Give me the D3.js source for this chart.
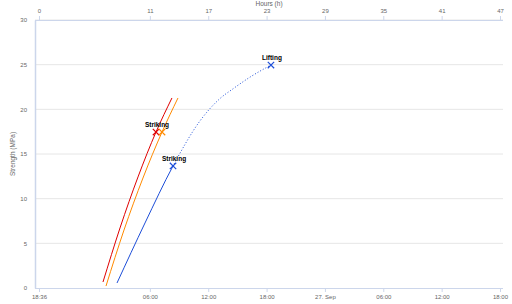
<!DOCTYPE html>
<html>
<head>
<meta charset="utf-8">
<script src="https://cdn.jsdelivr.net/npm/d3@7"></script>
<style>
  body { margin: 0; background: #fff; }
  text { font-family: "Liberation Sans", Arial, sans-serif; }
</style>
</head>
<body>
<script>
// hours after 26 Sep 18:36, strength in MPa
var redHours = [6.58, 8.33, 10.18, 12.03, 13.67]
var redValues = [0.67, 6.72, 12.43, 17.46, 21.27]
var orangeHours = [6.89, 8.74, 10.69, 12.65, 14.29]
var orangeValues = [0.22, 6.49, 12.31, 17.46, 21.27]
var blueHours = [8.02, 10.90, 13.78, 16.55, 18.60, 19.95, 21.69, 23.85]
var blueValues = [0.56, 7.28, 13.66, 18.70, 21.20, 22.30, 23.60, 24.96]
var blueStrikeHour = 13.78 // solid up to striking, dotted after

// milestones: [series, hour, value, label]
var milestones = [
  ["red", 12.03, 17.46, "Striking"],
  ["orange", 12.65, 17.46, ""],
  ["blue", 13.78, 13.66, "Striking"],
  ["blue", 23.85, 24.96, "Lifting"]
]

var yTicks = [0, 5, 10, 15, 20, 25, 30]
var topTickHours = [0, 11.4, 17.4, 23.4, 29.4, 35.4, 41.4, 47.4]
var topTickLabels = ["0", "11", "17", "23", "29", "35", "41", "47"]
var bottomTickLabels = ["18:36", "06:00", "12:00", "18:00", "27. Sep", "06:00", "12:00", "18:00"]

var colors = {red: "#e00000", orange: "#ff8a00", blue: "#1d4ed8"}

var width = 512, height = 304
var plot = {left: 35, right: 503, top: 20, bottom: 288}

var svg = d3.select("body").append("svg")
    .attr("width", width)
    .attr("height", height)

var x = d3.scaleLinear().domain([0, 47.4]).range([39, 500])
var y = d3.scaleLinear().domain([0, 30]).range([plot.bottom, plot.top])

// grid
svg.append("g").selectAll("line")
    .data(yTicks.filter(d => d > 0))
    .enter().append("line")
    .attr("x1", plot.left).attr("x2", plot.right)
    .attr("y1", d => y(d)).attr("y2", d => y(d))
    .attr("stroke", "#e6e6e6").attr("stroke-width", 1)

// y axis
var yAxis = d3.axisLeft(y).tickValues(yTicks).tickSize(0).tickPadding(8)
var yG = svg.append("g").attr("transform", "translate(" + plot.left + ",0)").call(yAxis)
yG.select(".domain").attr("stroke", "#ccd6eb").attr("stroke-width", 1.5)
yG.selectAll("text").attr("fill", "#666").style("font-size", "6px")

svg.append("text")
    .attr("transform", "translate(13," + ((plot.top + plot.bottom) / 2) + ") rotate(-90)")
    .attr("text-anchor", "middle")
    .attr("dominant-baseline", "middle")
    .attr("fill", "#666")
    .style("font-size", "6.5px")
    .text("Strength (MPa)")

// bottom axis
var xBottom = d3.axisBottom(x).tickValues(topTickHours).tickSize(4).tickPadding(3)
    .tickFormat((d, i) => bottomTickLabels[i])
var xbG = svg.append("g").attr("transform", "translate(0," + plot.bottom + ")").call(xBottom)
xbG.select(".domain").attr("d", "M" + plot.left + ",0.5H" + plot.right).attr("stroke", "#ccd6eb")
xbG.selectAll(".tick line").attr("stroke", "#ccd6eb")
xbG.selectAll("text").attr("fill", "#666").style("font-size", "6px")

// top axis
var xTop = d3.axisTop(x).tickValues(topTickHours).tickSize(4).tickPadding(3)
    .tickFormat((d, i) => topTickLabels[i])
var xtG = svg.append("g").attr("transform", "translate(0," + plot.top + ")").call(xTop)
xtG.select(".domain").attr("d", "M" + plot.left + ",0.5H" + plot.right).attr("stroke", "#ccd6eb")
xtG.selectAll(".tick line").attr("stroke", "#ccd6eb")
xtG.selectAll("text").attr("fill", "#666").style("font-size", "6px")

svg.append("text")
    .attr("x", (plot.left + plot.right) / 2)
    .attr("y", 6)
    .attr("text-anchor", "middle")
    .attr("fill", "#666")
    .style("font-size", "6.5px")
    .text("Hours (h)")

// lines
var line = d3.line()
    .x(d => x(d[0]))
    .y(d => y(d[1]))
    .curve(d3.curveMonotoneX)

function pts(hs, vs) { return hs.map((h, i) => [h, vs[i]]) }

svg.append("path").datum(pts(redHours, redValues))
    .attr("fill", "none").attr("stroke", colors.red).attr("stroke-width", 1).attr("d", line)
svg.append("path").datum(pts(orangeHours, orangeValues))
    .attr("fill", "none").attr("stroke", colors.orange).attr("stroke-width", 1).attr("d", line)

// blue: one curve, solid part clipped before striking, dotted part after
var defs = svg.append("defs")
defs.append("clipPath").attr("id", "solidClip").append("rect")
    .attr("x", 0).attr("y", 0).attr("width", x(blueStrikeHour)).attr("height", height)
defs.append("clipPath").attr("id", "dotClip").append("rect")
    .attr("x", x(blueStrikeHour)).attr("y", 0).attr("width", width).attr("height", height)

var bluePts = pts(blueHours, blueValues)
svg.append("path").datum(bluePts)
    .attr("clip-path", "url(#solidClip)")
    .attr("fill", "none").attr("stroke", colors.blue).attr("stroke-width", 1).attr("d", line)
svg.append("path").datum(bluePts)
    .attr("clip-path", "url(#dotClip)")
    .attr("fill", "none").attr("stroke", colors.blue).attr("stroke-width", 1)
    .attr("stroke-dasharray", "1,2").attr("d", line)

// markers
var mk = svg.append("g")
milestones.forEach(function(m) {
  var cx = x(m[1]), cy = y(m[2]), s = 3.2
  mk.append("path")
    .attr("d", "M" + (cx - s) + "," + (cy - s) + "L" + (cx + s) + "," + (cy + s) +
               "M" + (cx - s) + "," + (cy + s) + "L" + (cx + s) + "," + (cy - s))
    .attr("stroke", colors[m[0]]).attr("stroke-width", 1.2).attr("fill", "none")
  if (m[3]) {
    mk.append("text")
      .attr("x", cx + 1).attr("y", cy - 5)
      .attr("text-anchor", "middle")
      .attr("fill", "#000")
      .style("font-size", "6.5px").style("font-weight", "bold")
      .text(m[3])
  }
})
</script>
</body>
</html>
